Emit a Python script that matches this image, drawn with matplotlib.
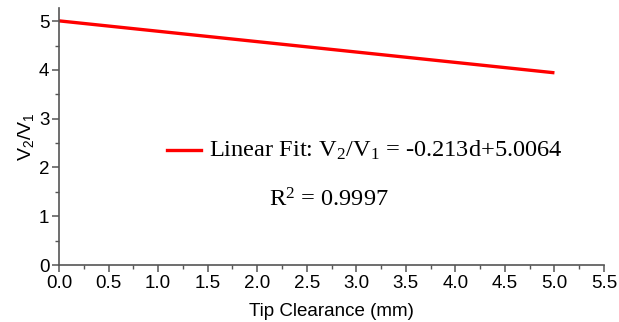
import numpy as np
import matplotlib
matplotlib.use("Agg")
import matplotlib.pyplot as plt
from matplotlib.ticker import MultipleLocator

# linear fit V2/V1 = -0.213 d + 5.0064, drawn over the measured range
fit_slope = -0.213
fit_intercept = 5.0064
d_range = [0.0, 5.0]
fit_label = r'Linear Fit: $\mathrm{V_2/V_1}$ = -0.213d+5.0064'
r2_text = r'$\mathrm{R^2}$ = 0.9997'

plt.rcParams['mathtext.fontset'] = 'custom'
plt.rcParams['mathtext.rm'] = 'Liberation Serif'
plt.rcParams['mathtext.sf'] = 'Liberation Sans'
plt.rcParams['font.family'] = 'Liberation Sans'

fig = plt.figure(figsize=(6.19, 3.22), dpi=100)
ax = fig.add_axes([59 / 619, 1 - 265 / 322, 545 / 619, 257 / 322])

d = np.array(d_range)
ax.plot(d, fit_slope * d + fit_intercept, color='#ff0000', lw=2.4,
        solid_capstyle='butt')

ax.set_xlim(0, 5.5)
ax.set_ylim(0, 5.27)
ax.xaxis.set_major_locator(MultipleLocator(0.5))
ax.xaxis.set_minor_locator(MultipleLocator(0.25))
ax.yaxis.set_major_locator(MultipleLocator(1))
ax.yaxis.set_minor_locator(MultipleLocator(0.5))

for s in ['top', 'right']:
    ax.spines[s].set_visible(False)
for s in ['left', 'bottom']:
    ax.spines[s].set_color('#555555')
    ax.spines[s].set_linewidth(1.2)
ax.tick_params(which='major', direction='out', length=5, width=1.1,
               color='#555555', labelsize=13.5, pad=2)
ax.tick_params(which='minor', direction='out', length=3, width=1.0,
               color='#555555')

ax.set_xlabel('Tip Clearance (mm)', fontsize=13.5, labelpad=8)
ax.set_ylabel(r'$\mathsf{V_2/V_1}$', fontsize=14, labelpad=2)

# legend-like annotation (data coordinates)
ax.plot([1.09, 1.43], [2.36, 2.36], color='#ff0000', lw=2.4)
ax.text(1.51, 2.36, fit_label,
        family='Liberation Serif', fontsize=17.6, va='center', ha='left')
ax.text(2.12, 1.33, r2_text,
        family='Liberation Serif', fontsize=17.6, va='center', ha='left')

fig.savefig('out.png', dpi=100)
